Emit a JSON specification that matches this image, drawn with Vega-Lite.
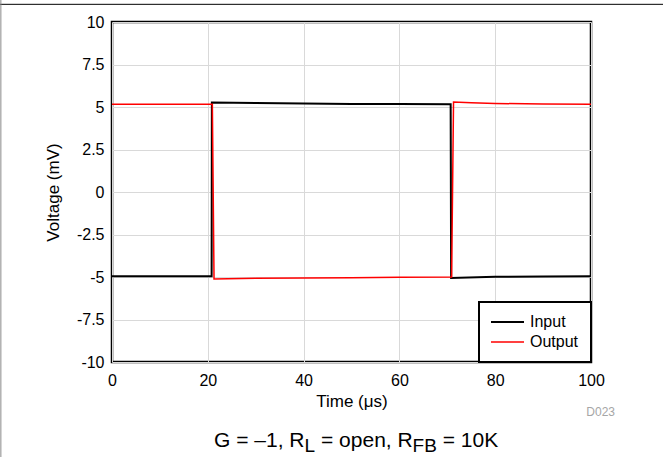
{
  "$schema": "https://vega.github.io/schema/vega-lite/v6.json",
  "autosize": {"type": "none"},
  "padding": {"left": 112, "top": 22, "right": 72, "bottom": 95},
  "width": 479,
  "height": 340,
  "background": "white",
  "layer": [
    {
      "data": {
        "values": [
          {"t": 0, "v": -4.95, "s": "Input"},
          {"t": 10, "v": -4.95, "s": "Input"},
          {"t": 20.8, "v": -4.95, "s": "Input"},
          {"t": 20.85, "v": 5.26, "s": "Input"},
          {"t": 30, "v": 5.23, "s": "Input"},
          {"t": 40, "v": 5.2, "s": "Input"},
          {"t": 50, "v": 5.18, "s": "Input"},
          {"t": 60, "v": 5.17, "s": "Input"},
          {"t": 70.7, "v": 5.16, "s": "Input"},
          {"t": 70.8, "v": -5.06, "s": "Input"},
          {"t": 80, "v": -4.99, "s": "Input"},
          {"t": 90, "v": -4.97, "s": "Input"},
          {"t": 100, "v": -4.96, "s": "Input"},
          {"t": 0, "v": 5.16, "s": "Output"},
          {"t": 10, "v": 5.16, "s": "Output"},
          {"t": 20.95, "v": 5.16, "s": "Output"},
          {"t": 21.3, "v": -5.12, "s": "Output"},
          {"t": 30, "v": -5.08, "s": "Output"},
          {"t": 40, "v": -5.06, "s": "Output"},
          {"t": 50, "v": -5.04, "s": "Output"},
          {"t": 60, "v": -5.02, "s": "Output"},
          {"t": 70.9, "v": -5.0, "s": "Output"},
          {"t": 71.3, "v": 5.29, "s": "Output"},
          {"t": 75, "v": 5.25, "s": "Output"},
          {"t": 80, "v": 5.21, "s": "Output"},
          {"t": 90, "v": 5.17, "s": "Output"},
          {"t": 100, "v": 5.16, "s": "Output"}
        ]
      },
      "mark": {"type": "line", "interpolate": "linear"},
      "encoding": {
        "x": {
          "field": "t",
          "type": "quantitative",
          "title": "Time (μs)",
          "scale": {"domain": [0, 100], "nice": false, "zero": false},
          "axis": {"values": [0, 20, 40, 60, 80, 100]}
        },
        "y": {
          "field": "v",
          "type": "quantitative",
          "title": "Voltage (mV)",
          "scale": {"domain": [-10, 10], "nice": false, "zero": false},
          "axis": {
            "values": [-10, -7.5, -5, -2.5, 0, 2.5, 5, 7.5, 10],
            "labelExpr": "toString(datum.value)"
          }
        },
        "color": {
          "field": "s",
          "type": "nominal",
          "title": null,
          "scale": {"domain": ["Input", "Output"], "range": ["#000000", "#ff0000"]}
        },
        "strokeWidth": {
          "field": "s",
          "type": "nominal",
          "title": null,
          "scale": {"domain": ["Input", "Output"], "range": [2, 1.5]}
        }
      }
    },
    {
      "data": {"values": [{}]},
      "mark": {"type": "text", "text": "G = –1, R", "align": "left", "baseline": "alphabetic", "fontSize": 21, "dx": 102, "dy": 85},
      "encoding": {"x": {"datum": 0}, "y": {"datum": -10}}
    },
    {
      "data": {"values": [{}]},
      "mark": {"type": "text", "text": "L", "align": "left", "baseline": "alphabetic", "fontSize": 19, "dx": 192.5, "dy": 90},
      "encoding": {"x": {"datum": 0}, "y": {"datum": -10}}
    },
    {
      "data": {"values": [{}]},
      "mark": {"type": "text", "text": "= open, R", "align": "left", "baseline": "alphabetic", "fontSize": 21, "dx": 209, "dy": 85},
      "encoding": {"x": {"datum": 0}, "y": {"datum": -10}}
    },
    {
      "data": {"values": [{}]},
      "mark": {"type": "text", "text": "FB", "align": "left", "baseline": "alphabetic", "fontSize": 19, "dx": 300.6, "dy": 90},
      "encoding": {"x": {"datum": 0}, "y": {"datum": -10}}
    },
    {
      "data": {"values": [{}]},
      "mark": {"type": "text", "text": "= 10K", "align": "left", "baseline": "alphabetic", "fontSize": 21, "dx": 330.7, "dy": 85},
      "encoding": {"x": {"datum": 0}, "y": {"datum": -10}}
    },
    {
      "data": {"values": [{}]},
      "mark": {"type": "text", "text": "D023", "align": "right", "baseline": "alphabetic", "fontSize": 12, "color": "#a6a6a6", "dx": 24, "dy": 54},
      "encoding": {"x": {"datum": 100}, "y": {"datum": -10}}
    },
    {
      "data": {"values": [{}]},
      "mark": {"type": "rule", "color": "#000000", "strokeWidth": 1},
      "encoding": {"x": {"datum": -23.4}, "x2": {"datum": 115.1}, "y": {"datum": 11.04}}
    },
    {
      "data": {"values": [{}]},
      "mark": {"type": "rule", "color": "#888888", "strokeWidth": 1},
      "encoding": {"x": {"datum": -23.2}, "y": {"datum": 11.3}, "y2": {"datum": -15.6}}
    }
  ],
  "config": {
    "font": "Liberation Sans",
    "view": {"stroke": "#000000", "strokeWidth": 2.5},
    "text": {"font": "Liberation Sans", "color": "#000000"},
    "axis": {
      "domain": false,
      "ticks": false,
      "grid": true,
      "gridColor": "#d9d9d9",
      "gridWidth": 1,
      "labelFlush": false,
      "labelFont": "Liberation Sans",
      "labelFontSize": 16,
      "labelColor": "#000000",
      "titleFont": "Liberation Sans",
      "titleFontSize": 17,
      "titleFontWeight": "normal",
      "titleColor": "#000000"
    },
    "axisX": {"labelPadding": 10, "titlePadding": 5},
    "axisY": {"labelPadding": 8, "titlePadding": 14},
    "legend": {
      "orient": "bottom-right",
      "offset": 0,
      "strokeColor": "#000000",
      "strokeWidth": 2,
      "fillColor": "#ffffff",
      "padding": 12,
      "labelFont": "Liberation Sans",
      "labelFontSize": 16,
      "labelColor": "#000000",
      "labelOffset": 5,
      "symbolType": "stroke",
      "symbolSize": 1156,
      "symbolOffset": -2,
      "clipHeight": 16,
      "rowPadding": 4
    }
  }
}
